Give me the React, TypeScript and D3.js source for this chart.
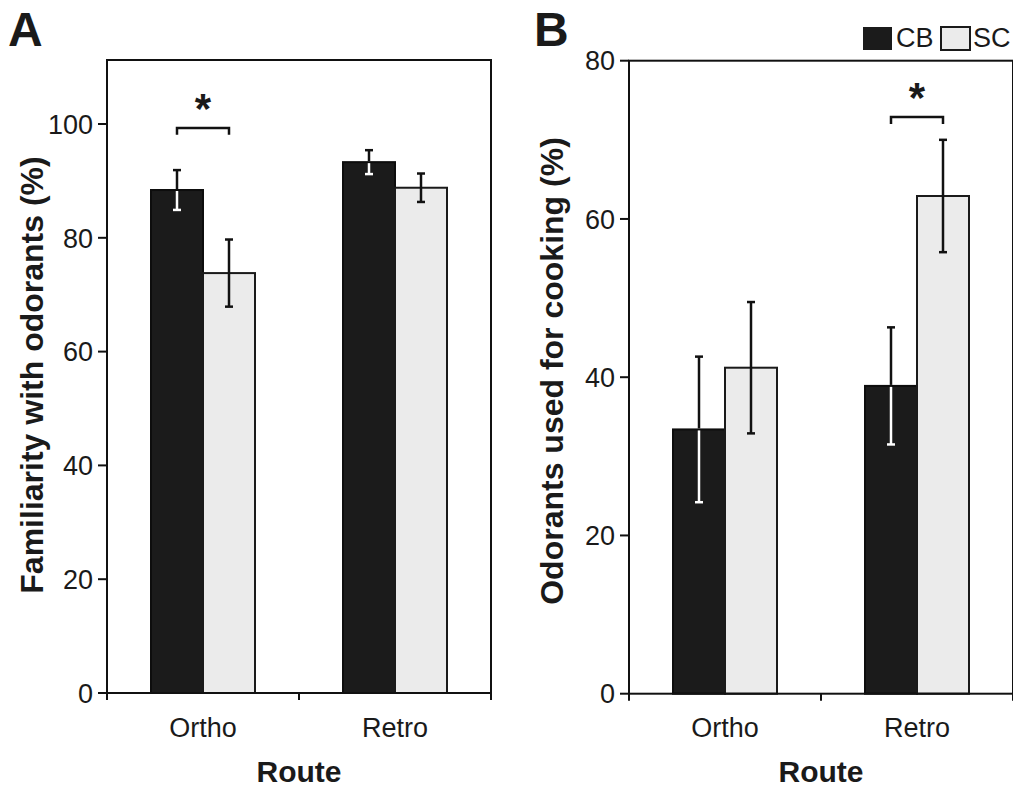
import React from "react";
import * as d3 from "d3";

// categories and groups
const routes = ["Ortho", "Retro"];
const groups = ["CB", "SC"];

// panel A: familiarity with odorants (%)
const familiarityCB = [88.4, 93.3];
const familiarityCBErr = [3.5, 2.1];
const familiaritySC = [73.8, 88.8];
const familiaritySCErr = [5.9, 2.5];

// panel B: odorants used for cooking (%)
const cookingCB = [33.4, 38.9];
const cookingCBErr = [9.2, 7.4];
const cookingSC = [41.2, 62.9];
const cookingSCErr = [8.3, 7.1];

const ticksA = [0, 20, 40, 60, 80, 100];
const ticksB = [0, 20, 40, 60, 80];

const FONT = "'Liberation Sans', Arial, Helvetica, sans-serif";
const DARK = "#1b1b1b";
const LIGHT = "#ebebeb";

type PanelProps = {
  letter: string;
  letterX: number;
  yLabel: string;
  yLabelX: number;
  yLabelY: number;
  xRange: [number, number];
  yRange: [number, number];
  yMax: number;
  ticks: number[];
  cb: number[];
  cbErr: number[];
  sc: number[];
  scErr: number[];
  sigRoute: string;
  sigY: number;
  sigLeg: number;
};

const Panel = (p: PanelProps) => {
  const x = d3.scaleBand<string>().domain(routes).range(p.xRange).padding(0);
  const y = d3.scaleLinear().domain([0, p.yMax]).range(p.yRange);
  const inner = d3.scaleBand<string>().domain(groups).range([-52, 52]);
  const [x0, x1] = p.xRange;
  const [yb, yt] = p.yRange;

  const bars = routes.flatMap((r, i) => [
    { route: r, group: "CB", v: p.cb[i], e: p.cbErr[i] },
    { route: r, group: "SC", v: p.sc[i], e: p.scErr[i] },
  ]);

  const capW = 4;

  return (
    <g>
      <text x={p.letterX} y={46} fontFamily={FONT} fontWeight="bold" fontSize={48} fill="#1a1a1a">
        {p.letter}
      </text>

      {/* bars */}
      {bars.map((d, k) => {
        const bx = (x(d.route) as number) + x.bandwidth() / 2 + (inner(d.group) as number);
        const dark = d.group === "CB";
        return (
          <rect
            key={k}
            x={bx}
            y={y(d.v)}
            width={inner.bandwidth()}
            height={y(0) - y(d.v)}
            fill={dark ? DARK : LIGHT}
            stroke={dark ? "#0d0d0d" : "#1a1a1a"}
            strokeWidth={2}
          />
        );
      })}

      {/* error bars */}
      {bars.map((d, k) => {
        const cx = (x(d.route) as number) + x.bandwidth() / 2 + (inner(d.group) as number) + inner.bandwidth() / 2;
        const lo = d.v - d.e;
        const hi = d.v + d.e;
        const dark = d.group === "CB";
        const loCol = dark ? "#ffffff" : "#111";
        return (
          <g key={k} strokeWidth={2.5}>
            {dark ? (
              <>
                <line x1={cx} x2={cx} y1={y(lo)} y2={y(d.v) + 1} stroke="#ffffff" />
                <line x1={cx} x2={cx} y1={y(d.v) - 1} y2={y(hi)} stroke="#111" />
              </>
            ) : (
              <line x1={cx} x2={cx} y1={y(lo)} y2={y(hi)} stroke="#111" />
            )}
            <line x1={cx - capW} x2={cx + capW} y1={y(lo)} y2={y(lo)} stroke={loCol} />
            <line x1={cx - capW} x2={cx + capW} y1={y(hi)} y2={y(hi)} stroke="#111" />
          </g>
        );
      })}

      {/* frame */}
      <rect x={x0} y={yt} width={x1 - x0} height={yb - yt} fill="none" stroke="#111" strokeWidth={2} />

      {/* y ticks */}
      {p.ticks.map((t) => (
        <g key={t}>
          <line x1={x0 - 9} x2={x0} y1={y(t)} y2={y(t)} stroke="#111" strokeWidth={2} />
          <text
            x={x0 - 14}
            y={y(t)}
            dy="0.36em"
            textAnchor="end"
            fontFamily={FONT}
            fontSize={27}
            fill="#1a1a1a"
          >
            {t}
          </text>
        </g>
      ))}

      {/* x ticks at band edges */}
      {[x0, (x(routes[1]) as number), x1].map((t, k) => (
        <line key={k} x1={t} x2={t} y1={yb} y2={yb + 7} stroke="#111" strokeWidth={2} />
      ))}
      {routes.map((r) => (
        <text
          key={r}
          x={(x(r) as number) + x.bandwidth() / 2}
          y={737}
          textAnchor="middle"
          fontFamily={FONT}
          fontSize={27}
          fill="#1a1a1a"
        >
          {r}
        </text>
      ))}
      <text
        x={(x0 + x1) / 2}
        y={782}
        textAnchor="middle"
        fontFamily={FONT}
        fontWeight="bold"
        fontSize={30}
        fill="#1a1a1a"
      >
        Route
      </text>

      <text
        transform={`translate(${p.yLabelX},${p.yLabelY}) rotate(-90)`}
        textAnchor="middle"
        fontFamily={FONT}
        fontWeight="bold"
        fontSize={32}
        fill="#1a1a1a"
      >
        {p.yLabel}
      </text>

      {/* significance bracket */}
      {(() => {
        const c = (x(p.sigRoute) as number) + x.bandwidth() / 2;
        const l = c + (inner("CB") as number) + inner.bandwidth() / 2;
        const r = c + (inner("SC") as number) + inner.bandwidth() / 2;
        const path = `M${l},${y(p.sigLeg)} V${y(p.sigY)} H${r} V${y(p.sigLeg)}`;
        return (
          <g>
            <path d={path} fill="none" stroke="#111" strokeWidth={2.5} />
            <text
              x={(l + r) / 2}
              y={y(p.sigY) - 5}
              textAnchor="middle"
              fontFamily={FONT}
              fontWeight="bold"
              fontSize={42}
              fill="#1a1a1a"
            >
              *
            </text>
          </g>
        );
      })()}
    </g>
  );
};

const App = () => {
  return (
    <svg
      width={1013}
      height={787}
      style={{ position: "absolute", left: 0, top: 0, background: "#fff" }}
    >
      <rect width={1013} height={787} fill="#fff" />
      <Panel
        letter="A"
        letterX={8}
        yLabel="Familiarity with odorants (%)"
        yLabelX={43}
        yLabelY={375}
        xRange={[107, 491]}
        yRange={[693, 60]}
        yMax={111.25}
        ticks={ticksA}
        cb={familiarityCB}
        cbErr={familiarityCBErr}
        sc={familiaritySC}
        scErr={familiaritySCErr}
        sigRoute="Ortho"
        sigY={99.3}
        sigLeg={98.1}
      />
      <Panel
        letter="B"
        letterX={534}
        yLabel="Odorants used for cooking (%)"
        yLabelX={563}
        yLabelY={371}
        xRange={[629, 1013]}
        yRange={[693.7, 60.7]}
        yMax={80}
        ticks={ticksB}
        cb={cookingCB}
        cbErr={cookingCBErr}
        sc={cookingSC}
        scErr={cookingSCErr}
        sigRoute="Retro"
        sigY={72.9}
        sigLeg={72.0}
      />
      {/* legend */}
      {groups.map((g, i) => (
        <g key={g}>
          <rect
            x={863 + i * 78}
            y={27}
            width={29}
            height={23}
            fill={g === "CB" ? DARK : LIGHT}
            stroke="#1a1a1a"
            strokeWidth={g === "CB" ? 0 : 2}
          />
          <text x={896 + i * 77} y={47} fontFamily={FONT} fontSize={27} fill="#1a1a1a">
            {g}
          </text>
        </g>
      ))}
    </svg>
  );
};

export default App;
